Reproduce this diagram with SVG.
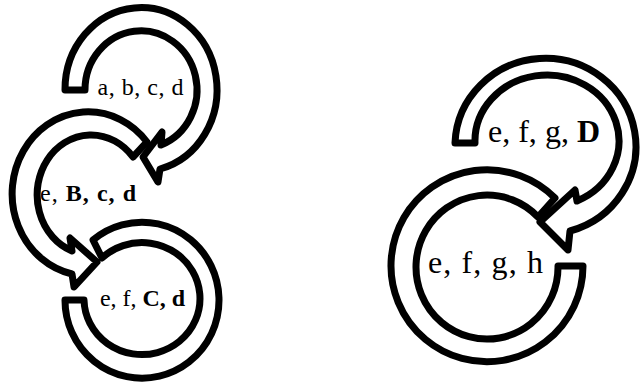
<svg xmlns="http://www.w3.org/2000/svg" width="641" height="382" viewBox="0 0 641 382">
<style>
.arc{fill:#fff;stroke:#000;stroke-width:7;stroke-linejoin:round}
.lbl{font-family:"Liberation Serif","Times New Roman",serif;fill:#000;text-anchor:middle}
.s{font-size:24px}
.b{font-size:32px}
</style>
<rect width="641" height="382" fill="#fff"/>
<g id="connectors"></g>
<g id="node3">
<path class="arc" d="M93,240 A77,78 0 1 1 65,300 L84,300 A58,56 0 1 0 102,258 Z"/>
<text class="lbl s" x="142.5" y="306" textLength="85" lengthAdjust="spacing">e, f, <tspan font-weight="bold">C, d</tspan></text>
</g>
<g id="node2">
<path class="arc" d="M147,142 A76,82 0 1 0 72,274 L74,287 L97,262 L70,238 L72,251 A54,60 0 1 1 133,157 Z"/>
<text class="lbl s" x="88" y="201" textLength="96" lengthAdjust="spacing">e, <tspan font-weight="bold">B, c, d</tspan></text>
</g>
<g id="node1">
<path class="arc" d="M65,90 A76,82 0 1 1 160,169 L158,182 L143,157 L162,132 L161,145 A56,59 0 1 0 85,90 Z"/>
<text class="lbl s" x="140.5" y="95" textLength="86" lengthAdjust="spacing">a, b, c, d</text>
</g>
<g id="node5">
<path class="arc" d="M555,198 A96,96 0 1 0 583,266 L558,266 A71,72 0 1 1 538,217 Z"/>
<text class="lbl b" x="485.5" y="273" textLength="115" lengthAdjust="spacing">e, f, g, h</text>
</g>
<g id="node4">
<path class="arc" d="M455,143 A90.5,88 0 1 1 570,231 L568,250 L540,222 L575,190 L577,201 A72,66 0 1 0 475,143 Z"/>
<text class="lbl b" x="544" y="142" textLength="112" lengthAdjust="spacing">e, f, g, <tspan font-weight="bold">D</tspan></text>
</g>
</svg>
